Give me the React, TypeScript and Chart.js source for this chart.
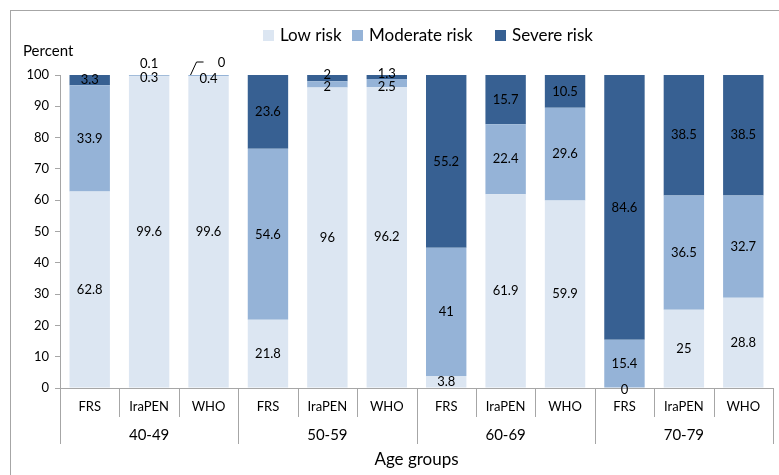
import React, { useEffect, useRef } from "react";
import { Chart, registerables } from "chart.js";

Chart.register(...registerables);

const groups = ["40-49", "50-59", "60-69", "70-79"];
const methods = ["FRS", "IraPEN", "WHO"];
const categories = groups.flatMap((g) => methods.map((m) => `${m} ${g}`));

const lowRisk = [62.8, 99.6, 99.6, 21.8, 96, 96.2, 3.8, 61.9, 59.9, 0, 25, 28.8];
const moderateRisk = [33.9, 0.3, 0.4, 54.6, 2, 2.5, 41, 22.4, 29.6, 15.4, 36.5, 32.7];
const severeRisk = [3.3, 0.1, 0, 23.6, 2, 1.3, 55.2, 15.7, 10.5, 84.6, 38.5, 38.5];

const seriesNames = ["Low risk", "Moderate risk", "Severe risk"];
const seriesColors = ["#dce6f2", "#95b3d7", "#376092"];
const yTicks = [0, 10, 20, 30, 40, 50, 60, 70, 80, 90, 100];

const FONT = "Lato, 'Open Sans', sans-serif";

// label nudges for thin segments: key "dataset-index" -> [dx, dy]
const labelNudge: Record<string, [number, number]> = {
  "2-1": [0, -11],
  "1-1": [0, 2],
  "1-2": [0, 3],
  "2-2": [13, -12],
  "2-4": [0, -3],
  "1-4": [0, 2],
  "2-5": [0, -3],
  "1-5": [0, 4],
  "0-9": [0, 2],
};

const decorPlugin = {
  id: "decor",
  afterDraw(chart: any) {
    const ctx = chart.ctx as CanvasRenderingContext2D;
    const area = chart.chartArea;
    const xs = chart.scales.x;
    ctx.save();
    // outer chart border
    ctx.strokeStyle = "#a6a6a6";
    ctx.lineWidth = 1;
    ctx.strokeRect(10.5, 10.5, 900, 900);

    // data labels
    ctx.fillStyle = "#000";
    ctx.font = `13px ${FONT}`;
    ctx.textAlign = "center";
    ctx.textBaseline = "middle";
    chart.data.datasets.forEach((ds: any, di: number) => {
      const meta = chart.getDatasetMeta(di);
      meta.data.forEach((bar: any, i: number) => {
        const v = ds.data[i];
        const cy = (bar.y + bar.base) / 2;
        const n = labelNudge[`${di}-${i}`] || [0, 0];
        ctx.fillText(String(v), bar.x + n[0], cy + n[1]);
        if (di === 2 && i === 2) {
          // leader line
          ctx.strokeStyle = "#000";
          ctx.beginPath();
          ctx.moveTo(bar.x - 18, cy);
          ctx.lineTo(bar.x - 12, cy + n[1] - 1);
          ctx.lineTo(bar.x - 5, cy + n[1] - 1);
          ctx.stroke();
        }
      });
    });

    // x axis category labels and separators
    const n = categories.length;
    const step = (area.right - area.left) / n;
    ctx.strokeStyle = "#a6a6a6";
    ctx.lineWidth = 1;
    for (let i = 0; i <= n; i++) {
      const x = Math.round(area.left + i * step) + 0.5;
      const isGroup = i % methods.length === 0;
      ctx.beginPath();
      ctx.moveTo(x, area.bottom);
      ctx.lineTo(x, area.bottom + (isGroup ? 56 : 29));
      ctx.stroke();
    }
    ctx.fillStyle = "#000";
    ctx.font = `13px ${FONT}`;
    categories.forEach((c, i) => {
      const x = xs.getPixelForValue(i);
      ctx.fillText(methods[i % methods.length], x, area.bottom + 19);
    });
    ctx.font = `15px ${FONT}`;
    groups.forEach((g, gi) => {
      const x = area.left + (gi * methods.length + methods.length / 2) * step;
      ctx.fillText(g, x, area.bottom + 47);
    });
    ctx.font = `17px ${FONT}`;
    ctx.fillText("Age groups", (area.left + area.right) / 2, area.bottom + 72);

    // y axis title
    ctx.font = `15px ${FONT}`;
    ctx.textAlign = "left";
    ctx.fillText("Percent", 23, 51);

    // legend
    const legendX = [263, 352, 495];
    ctx.font = `17px ${FONT}`;
    seriesNames.forEach((name, i) => {
      ctx.fillStyle = seriesColors[i];
      ctx.fillRect(legendX[i], 30, 11, 11);
      ctx.fillStyle = "#000";
      ctx.fillText(name, legendX[i] + 17, 36);
    });
    ctx.restore();
  },
};

export default function App() {
  const ref = useRef<HTMLCanvasElement | null>(null);
  useEffect(() => {
    if (!ref.current) return;
    const chart = new Chart(ref.current, {
      type: "bar",
      data: {
        labels: categories,
        datasets: [lowRisk, moderateRisk, severeRisk].map((d, i) => ({
          label: seriesNames[i],
          data: d,
          backgroundColor: seriesColors[i],
          borderWidth: 0,
          categoryPercentage: 1,
          barPercentage: 0.68,
        })),
      },
      options: {
        animation: false,
        responsive: false,
        maintainAspectRatio: false,
        layout: { padding: { left: 0, right: 6, top: 75, bottom: 87 } },
        plugins: {
          legend: { display: false },
          tooltip: { enabled: false },
          title: { display: false },
        },
        scales: {
          x: {
            stacked: true,
            ticks: { display: false },
            grid: { display: false },
            border: { display: true, color: "#a6a6a6" },
            afterFit: (axis: any) => {
              axis.height = 0;
            },
          },
          y: {
            stacked: true,
            min: 0,
            max: 100,
            afterBuildTicks: (axis: any) => {
              axis.ticks = yTicks.map((v) => ({ value: v }));
            },
            afterFit: (axis: any) => {
              axis.width = 60;
            },
            ticks: {
              color: "#000",
              font: { family: FONT, size: 13 },
              padding: 6,
            },
            grid: {
              display: true,
              drawOnChartArea: false,
              drawTicks: true,
              tickLength: 5,
              color: "#a6a6a6",
            },
            border: { display: true, color: "#a6a6a6" },
          },
        },
      },
      plugins: [decorPlugin],
    });
    return () => chart.destroy();
  }, []);
  return (
    <div style={{ position: "fixed", left: 0, top: 0, width: 779, height: 475, background: "#fff" }}>
      <canvas ref={ref} width={779} height={475} style={{ width: 779, height: 475, display: "block" }} />
    </div>
  );
}
